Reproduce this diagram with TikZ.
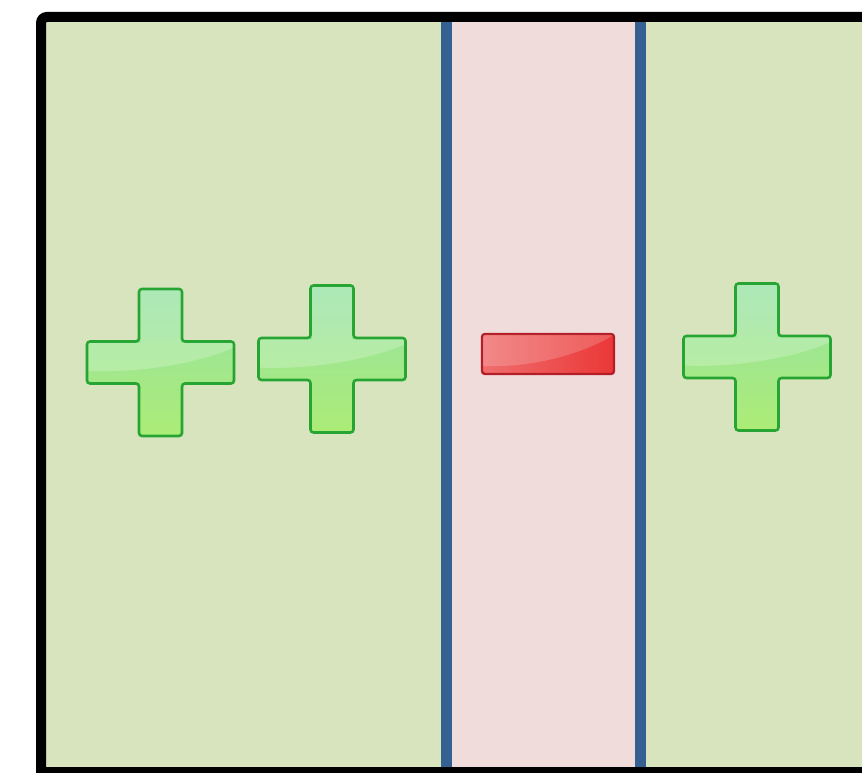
\documentclass[tikz,border=0pt]{standalone}
\begin{document}
\begin{tikzpicture}[x=1pt,y=1pt,
  plusedge/.style={draw={rgb,255:red,38;green,165;blue,50}},
  pics/plusicon/.style={code={
    \path[plusedge, line width=2.6pt, rounded corners=3pt,
      top color={rgb,255:red,150;green,226;blue,165},
      middle color={rgb,255:red,115;green,214;blue,110},
      bottom color={rgb,255:red,172;green,236;blue,118}]
      (-21.5,-73.5) -- (21.5,-73.5) -- (21.5,-21) -- (73.5,-21) -- (73.5,21) -- (21.5,21)
      -- (21.5,73.5) -- (-21.5,73.5) -- (-21.5,21) -- (-73.5,21) -- (-73.5,-21) -- (-21.5,-21) -- cycle;
    \begin{scope}
      \clip (-20,-20) -- (-20,72) -- (20,72) -- (20,19.5) -- (72,19.5) -- (72,-20) -- cycle
            (-72,-19.5) rectangle (-20,19.5);
      \fill[white, opacity=0.22] (-80,90) -- (-80,-8) .. controls (-30,-12) and (40,-2) .. (80,18) -- (80,90) -- cycle;
    \end{scope}
  }},
  pics/minusicon/.style={code={
    \path[draw={rgb,255:red,180;green,30;blue,40}, line width=2.4pt, rounded corners=3pt,
      left color={rgb,255:red,240;green,110;blue,110},
      right color={rgb,255:red,235;green,55;blue,55}]
      (-66,-20) rectangle (66,20);
    \fill[white, opacity=0.18] (-65,19) -- (-65,-12) .. controls (-20,-14) and (30,-2) .. (64,18) -- (64,19) -- cycle;
  }}]
\definecolor{bggreen}{RGB}{216,228,190}
\definecolor{bgpink}{RGB}{241,220,220}
\definecolor{wallblue}{RGB}{53,96,146}
\useasboundingbox (0,0) rectangle (862,773);
\clip (0,0) rectangle (862,773);
% regions
\fill[bggreen] (46,6) rectangle (862,751);
\fill[bgpink] (446,6) rectangle (640,751);
% walls
\coordinate (w1t) at (446,751); \coordinate (w1b) at (446,6);
\coordinate (w2t) at (640,751); \coordinate (w2b) at (640,6);
\draw[wallblue, line width=11pt] (w1t) -- (w1b);
\draw[wallblue, line width=11pt] (w2t) -- (w2b);
% frame
\draw[black, line width=10pt, rounded corners=6pt] (41,-20) -- (41,756) -- (900,756);
\draw[black, line width=10pt] (36,1) -- (900,1);
% charges
\pic at (160.5,410.5) {plusicon};
\pic at (332,414) {plusicon};
\pic at (757,416) {plusicon};
\pic at (548,419) {minusicon};
\end{tikzpicture}
\end{document}
